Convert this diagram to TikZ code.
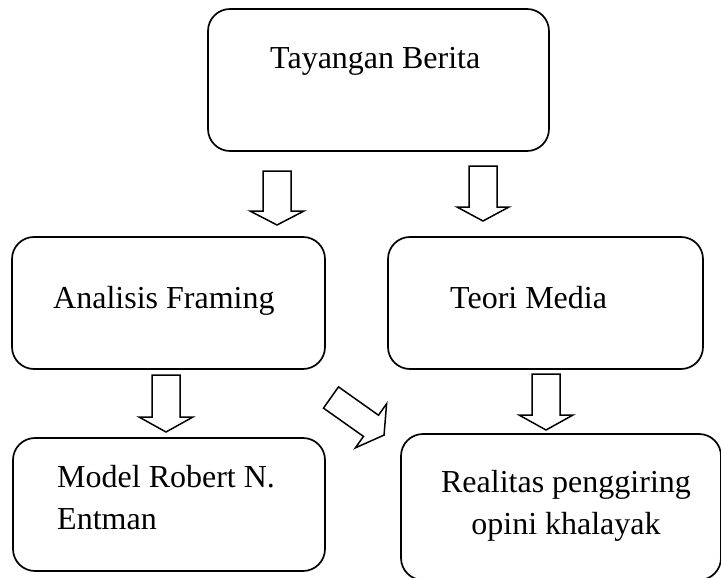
\documentclass[tikz,border=0pt]{standalone}
\usepackage{fontspec}
\setmainfont{Liberation Serif}
\usetikzlibrary{calc}
\tikzset{
  box/.style={draw=black, line width=1.7pt, rounded corners=22pt, minimum width=#1, inner sep=0pt},
  lbl/.style={inner sep=0pt, font=\fontsize{32}{42}\selectfont},
  blk/.style={draw=black, line width=1.5pt, fill=white, line join=miter},
  pics/blockarr/.style n args={4}{code={
    \draw[blk] (-#3,0) -- (-#3,#1-#2) -- (-#4,#1-#2) -- (0,#1) -- (#4,#1-#2) -- (#3,#1-#2) -- (#3,0) -- cycle;
  }}
}
\begin{document}
\begin{tikzpicture}[x=1pt,y=-1pt]
\useasboundingbox (0,0) rectangle (721,578);
\clip (0,0) rectangle (721,578);
% boxes
\node[box=341pt, minimum height=142pt] (top) at (378.5,80) {};
\node[box=313pt, minimum height=132pt] (fram) at (168.5,303) {};
\node[box=315pt, minimum height=132pt] (teori) at (545.5,303) {};
\node[box=312pt, minimum height=133pt] (model) at (169,504.5) {};
\node[box=320pt, minimum height=146pt] (real) at (561,507) {};
% texts
\node[lbl, anchor=base west] (ttop) at (270,69) {Tayangan Berita};
\node[lbl, anchor=base west] (tfram) at (53,308) {Analisis Framing};
\node[lbl, anchor=base west] (tteori) at (450,308) {Teori Media};
\node[lbl, anchor=north west, align=left] (tmodel) at (57,465) {Model Robert N.\\Entman};
\node[lbl, anchor=north, align=center] (treal) at (566,470) {Realitas penggiring\\opini khalayak};
% block arrows
\pic (a1) at (277,171) {blockarr={54}{14}{14}{27}};
\pic (a2) at (483,166) {blockarr={55}{14}{14}{26}};
\pic (a3) at (166,375) {blockarr={57}{15}{14}{27}};
\pic (a4) at (546,374) {blockarr={56}{15}{14}{27}};
\pic[rotate=54.7] (a5) at (331,397.5) {blockarr={65}{16}{13}{27}};
\end{tikzpicture}
\end{document}
